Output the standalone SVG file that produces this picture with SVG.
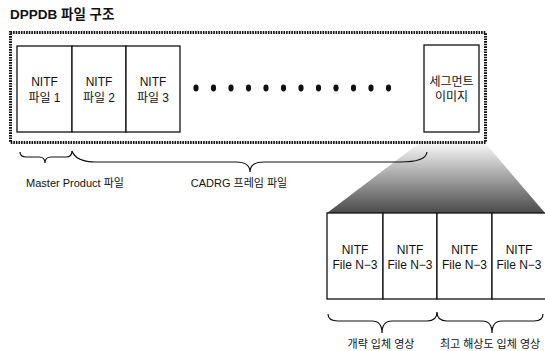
<svg xmlns="http://www.w3.org/2000/svg" width="545" height="351" viewBox="0 0 545 351">
  <defs>
    <linearGradient id="fan" x1="0" y1="0" x2="0" y2="1">
      <stop offset="0" stop-color="#f6f6f6"/>
      <stop offset="1" stop-color="#4a4a4a"/>
    </linearGradient>
    <style>
      text { font-family: "Liberation Sans", "Noto Sans CJK KR", sans-serif; font-size: 12px; fill: #111; }
      .title { font-size: 13.5px; font-weight: bold; }
      .lbl { font-size: 11px; }
      .box { fill: #fff; stroke: #111; stroke-width: 1.3; }
      .brace { fill: none; stroke: #111; stroke-width: 1.2; }
      .frame { fill: none; stroke: #111; stroke-width: 3; stroke-dasharray: 1.6 1; }
    </style>
  </defs>

  <rect width="545" height="351" fill="#fff"/>

  <text class="title" x="10" y="19">DPPDB 파일 구조</text>

  <!-- expansion fan from the segment image to its contents -->
  <polygon points="418,144 486,144 545,213 327,213" fill="url(#fan)"/>

  <!-- dotted frame around the file set -->
  <rect class="frame" x="10.5" y="32.5" width="475" height="110"/>

  <g id="nitf1">
    <rect class="box" x="17" y="46" width="55" height="86"/>
    <text x="44.5" y="86" text-anchor="middle">NITF</text>
    <text x="44.5" y="102" text-anchor="middle">파일 1</text>
  </g>
  <g id="nitf2">
    <rect class="box" x="72" y="46" width="54" height="86"/>
    <text x="99" y="86" text-anchor="middle">NITF</text>
    <text x="99" y="102" text-anchor="middle">파일 2</text>
  </g>
  <g id="nitf3">
    <rect class="box" x="126" y="46" width="54" height="86"/>
    <text x="153" y="86" text-anchor="middle">NITF</text>
    <text x="153" y="102" text-anchor="middle">파일 3</text>
  </g>

  <!-- ellipsis dots -->
  <g id="ellipsis" fill="#111">
    <ellipse cx="196" cy="88" rx="2.6" ry="3.4"/>
    <ellipse cx="213.5" cy="88" rx="2.6" ry="3.4"/>
    <ellipse cx="231" cy="88" rx="2.6" ry="3.4"/>
    <ellipse cx="248.5" cy="88" rx="2.6" ry="3.4"/>
    <ellipse cx="266" cy="88" rx="2.6" ry="3.4"/>
    <ellipse cx="283.5" cy="88" rx="2.6" ry="3.4"/>
    <ellipse cx="301" cy="88" rx="2.6" ry="3.4"/>
    <ellipse cx="318.5" cy="88" rx="2.6" ry="3.4"/>
    <ellipse cx="336" cy="88" rx="2.6" ry="3.4"/>
    <ellipse cx="353.5" cy="88" rx="2.6" ry="3.4"/>
    <ellipse cx="371" cy="88" rx="2.6" ry="3.4"/>
    <ellipse cx="388.5" cy="88" rx="2.6" ry="3.4"/>
  </g>

  <g id="segment">
    <rect class="box" x="424" y="45" width="55" height="87"/>
    <text x="451.5" y="86" text-anchor="middle">세그먼트</text>
    <text x="451.5" y="101" text-anchor="middle">이미지</text>
  </g>

  <g id="file-a">
    <rect class="box" x="327" y="213" width="56" height="86"/>
    <text x="355" y="254" text-anchor="middle">NITF</text>
    <text x="355" y="269" text-anchor="middle">File N−3</text>
  </g>
  <g id="file-b">
    <rect class="box" x="383" y="213" width="54" height="86"/>
    <text x="410" y="254" text-anchor="middle">NITF</text>
    <text x="410" y="269" text-anchor="middle">File N−3</text>
  </g>
  <g id="file-c">
    <rect class="box" x="437" y="213" width="55" height="86"/>
    <text x="464.5" y="254" text-anchor="middle">NITF</text>
    <text x="464.5" y="269" text-anchor="middle">File N−3</text>
  </g>
  <g id="file-d">
    <rect class="box" x="492" y="213" width="56" height="86"/>
    <text x="519" y="254" text-anchor="middle">NITF</text>
    <text x="519" y="269" text-anchor="middle">File N−3</text>
  </g>

  <!-- grouping braces -->
  <g id="braces">
    <path class="brace" d="M20,152 Q20,157 26,157 L39,157 Q45,157 45,163 Q45,157 51,157 L66,157 Q72,157 72,151"/>
    <path class="brace" d="M72,151 Q76,162 96,162 L236,162 Q250,162 250,172 Q250,162 264,162 L400,162 Q426,162 427,152"/>
    <path class="brace" d="M328,314 Q328,321 338,321 L372,321 Q382,321 382,333 Q382,321 392,321 L427,321 Q437,321 437,312 Q437,321 447,321 L482,321 Q492,321 492,333 Q492,321 502,321 L534,321 Q543,321 543,314"/>
  </g>

  <text class="lbl" x="75" y="187" text-anchor="middle">Master Product 파일</text>
  <text class="lbl" x="239" y="187" text-anchor="middle">CADRG 프레임 파일</text>
  <text class="lbl" x="381" y="348" text-anchor="middle">개략 입체 영상</text>
  <text class="lbl" x="490" y="348" text-anchor="middle">최고 해상도 입체 영상</text>
</svg>
